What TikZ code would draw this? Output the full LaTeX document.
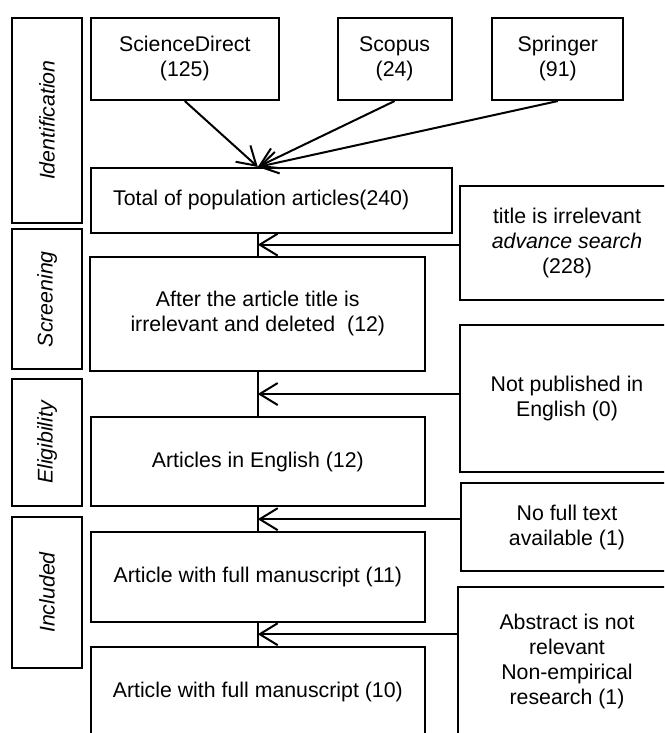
\documentclass[tikz,border=0pt]{standalone}
\usepackage{fontspec}
\setmainfont{Liberation Sans}
\usetikzlibrary{arrows.meta,calc}

\tikzset{
  box/.style={draw,line width=2pt,align=center,inner sep=0pt,font=\fontsize{21.3}{25}\selectfont},
  side/.style={box,rotate=90,minimum height=69.4pt,font=\fontsize{21.3}{25}\selectfont\itshape},
  arr/.style={-{Straight Barb[length=18pt,width=22pt]},line width=2pt}
}

\begin{document}
\begin{tikzpicture}[x=1pt,y=-1pt]

\useasboundingbox (0,0) rectangle (664,733);
\clip (0,0) rectangle (664,733);

% stages
\node[side,minimum width=205pt] (ident) at (47,120.2) {Identification};
\node[side,minimum width=140.3pt] (screen) at (47,299.2) {Screening};
\node[side,minimum width=127pt] (elig) at (47,442.5) {Eligibility};
\node[side,minimum width=151.6pt] (incl) at (47,592.5) {Included};

% databases
\node[box,minimum width=188.3pt,minimum height=82.3pt] (sd) at (184.8,58.9) {ScienceDirect\\(125)};
\node[box,minimum width=113.8pt,minimum height=82.3pt] (scopus) at (394.6,58.9) {Scopus\\(24)};
\node[box,minimum width=131pt,minimum height=82.3pt] (springer) at (557.8,58.9) {Springer\\(91)};

% main column
\node[box,minimum width=361pt,minimum height=64.7pt] (total) at (271.2,200.3) {Total of population articles(240)\hspace*{20pt}};
\node[box,minimum width=334.7pt,minimum height=114pt] (after) at (257.8,313.7) {After the article title is\\irrelevant and deleted~~(12)};
\node[box,minimum width=334pt,minimum height=88.7pt] (eng) at (257.8,461.7) {Articles in English (12)};
\node[box,minimum width=334.4pt,minimum height=89.4pt] (full11) at (257.8,577) {Article with full manuscript (11)};
\node[box,minimum width=334.4pt,minimum height=90pt] (full10) at (257.8,691.7) {Article with full manuscript (10)};

% excluded
\node[box,minimum width=214pt,minimum height=114pt] (title) at (567,243) {title is irrelevant\\\textit{advance search}\\(228)};
\node[box,minimum width=215pt,minimum height=146.7pt] (notpub) at (567,398.3) {Not published in\\English (0)};
\node[box,minimum width=213pt,minimum height=87.4pt] (nofull) at (567,527) {No full text\\available (1)};
\node[box,minimum width=219pt,minimum height=148.7pt] (abstr) at (567,661.7) {Abstract is not\\relevant\\Non-empirical\\research (1)};

\coordinate (hub) at (total.north -| after.north);
\draw[arr] (sd.south) -- (hub);
\draw[arr] (scopus.south) -- (hub);
\draw[arr] (springer.south) -- (hub);

\draw[line width=2pt] (total.south -| after.north) -- (after.north);
\draw[line width=2pt] (after.south) -- (eng.north);
\draw[line width=2pt] (eng.south) -- (full11.north);
\draw[line width=2pt] (full11.south) -- (full10.north);

\coordinate (g1) at ($(total.south -| after.north)!.5!(after.north)$);
\coordinate (g2) at ($(after.south)!.5!(eng.north)$);
\coordinate (g3) at ($(eng.south)!.5!(full11.north)$);
\coordinate (g4) at ($(full11.south)!.5!(full10.north)$);

\draw[arr] (title.west |- g1) -- (g1);
\draw[arr] (notpub.west |- g2) -- (g2);
\draw[arr] (nofull.west |- g3) -- (g3);
\draw[arr] (abstr.west |- g4) -- (g4);

\end{tikzpicture}
\end{document}
